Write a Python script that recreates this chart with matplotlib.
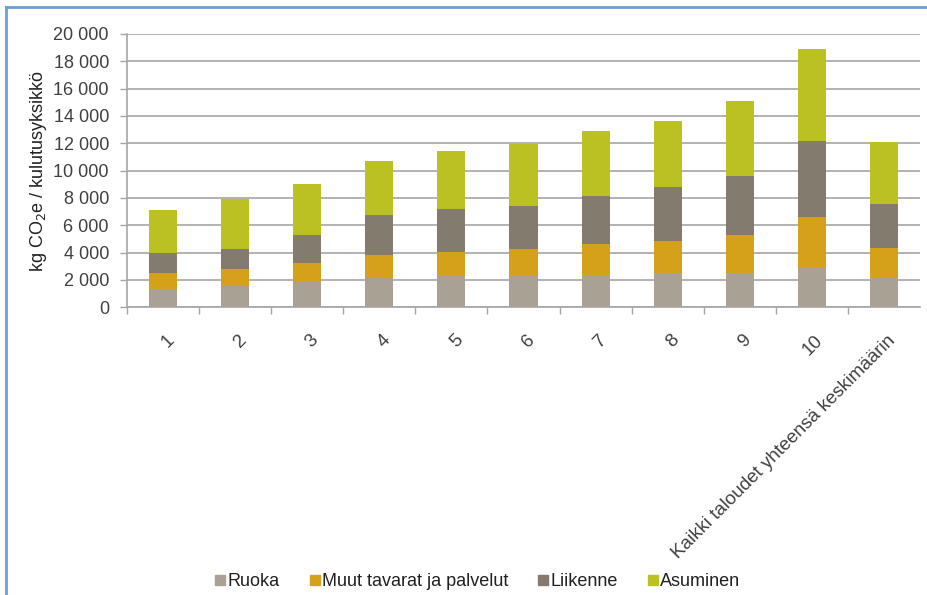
import matplotlib
matplotlib.use("Agg")
import matplotlib.pyplot as plt
from matplotlib.lines import Line2D
import numpy as np

categories = ["1", "2", "3", "4", "5", "6", "7", "8", "9", "10",
              "Kaikki taloudet yhteensä keskimäärin"]
ruoka = [1360, 1560, 1850, 2170, 2270, 2270, 2360, 2490, 2490, 2900, 2140]
muut = [1130, 1240, 1370, 1630, 1760, 1970, 2290, 2380, 2780, 3710, 2200]
liikenne = [1510, 1440, 2050, 2930, 3190, 3200, 3520, 3910, 4340, 5580, 3200]
asuminen = [3120, 3690, 3730, 4000, 4240, 4510, 4730, 4850, 5470, 6710, 4530]
series_names = ["Ruoka", "Muut tavarat ja palvelut", "Liikenne", "Asuminen"]
colors = ["#a9a193", "#d5a11a", "#837b6d", "#bbc123"]
yticks = [0, 2000, 4000, 6000, 8000, 10000, 12000, 14000, 16000, 18000, 20000]

plt.rcParams['font.family'] = ['Liberation Sans', 'DejaVu Sans']

fig = plt.figure(figsize=(9.28, 5.95), dpi=100)
ax = fig.add_axes([127/928, 1-307.3/595, (920-127)/928, (307.3-34)/595])

x = np.arange(len(categories))
bottom = np.zeros(len(categories))
for vals, c, name in zip([ruoka, muut, liikenne, asuminen], colors, series_names):
    ax.bar(x, vals, width=0.39, bottom=bottom, color=c, label=name, zorder=3)
    bottom += np.array(vals)

ax.set_xlim(-0.5, len(categories) - 0.5)
ax.set_ylim(0, 20000)
ax.set_yticks(yticks)
ax.set_yticklabels([f"{v:,}".replace(",", " ") for v in yticks], fontsize=13, color="#404040")
ax.yaxis.grid(True, color="#a6a6a6", linewidth=1.2, zorder=0)
ax.tick_params(axis='y', length=5, color="#a6a6a6", width=1, pad=8)

for s in ["top", "right"]:
    ax.spines[s].set_visible(False)
for s in ["left", "bottom"]:
    ax.spines[s].set_color("#a6a6a6")
    ax.spines[s].set_linewidth(1.2)

# category boundary ticks
ax.set_xticks(np.arange(len(categories)) - 0.5, minor=False)
ax.set_xticklabels([])
ax.tick_params(axis='x', length=5, color="#a6a6a6", width=1, direction='out')
ax.set_xticks(x + 0.12, minor=True)
ax.set_xticklabels(categories, minor=True, rotation=45, ha='right', va='center',
                   rotation_mode='anchor', fontsize=13.5, color="#404040")
ax.tick_params(axis='x', which='minor', length=0, pad=22)

ax.set_ylabel(r"kg CO$_2$e / kulutusyksikkö", fontsize=13, color="#202020", labelpad=3)

handles = [Line2D([0], [0], marker='s', color='none', markerfacecolor=c,
                  markeredgecolor=c, markersize=7) for c in colors]
fig.legend(handles, series_names, loc='center', bbox_to_anchor=(478/928, 1-582/595),
           ncol=4, frameon=False, fontsize=13, handlelength=0.5, handletextpad=0.15,
           columnspacing=1.7, labelcolor="#202020")

# blue frame
fig.add_artist(Line2D([6.5/928, 6.5/928], [0, 1-7/595], transform=fig.transFigure,
                      color="#6a9fd8", linewidth=2))
fig.add_artist(Line2D([6.5/928, 1], [1-7/595, 1-7/595], transform=fig.transFigure,
                      color="#6a9fd8", linewidth=2))

fig.savefig("out.png", dpi=100, facecolor="white")
